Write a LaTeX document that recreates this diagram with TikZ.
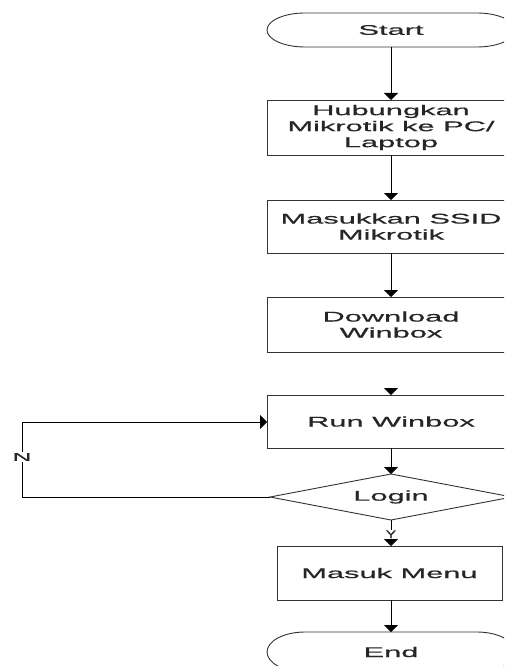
\documentclass[tikz,border=0pt]{standalone}
\usepackage{fontspec}
\usetikzlibrary{arrows.meta}
\newfontfamily\widesans[FakeStretch=2.2,FakeBold=0.6]{Liberation Sans}
\newfontfamily\labelsans[FakeStretch=1.4,FakeBold=0.8]{Liberation Sans}
\newfontfamily\nosans[FakeStretch=2.4,FakeBold=1]{Liberation Sans}
\begin{document}
\begin{tikzpicture}[x=1pt,y=1pt,
  line width=0.9pt,
  every node/.style={inner sep=0pt, outer sep=0pt},
  txt/.style={font=\widesans\fontsize{14}{16}\selectfont, align=center, text=black!85},
  procbox/.style={txt, draw=black!80, minimum width=248pt},
  termbox/.style={txt, minimum width=248pt},
  ctext/.style={txt, draw=none},
  yn/.style={font=\labelsans\fontsize{11}{12}\selectfont, fill=white, text=black!85, inner sep=1pt},
  arr/.style={draw=black, -{Triangle[width=14pt,length=7pt]}}
]
\useasboundingbox (0,0) rectangle (504,-666);
\clip (0,0) rectangle (504,-666);
\fill[white] (0,0) rectangle (504,-666);

% terminators (elliptic-ended outlines drawn round the text nodes)
\node[termbox, minimum height=34pt] (start) at (391,-30) {Start};
\node[termbox, minimum height=40pt] (endn) at (391,-652) {End};
\foreach \t/\r in {start/17,endn/20}{
  \draw[draw=black!80] ([xshift=38pt]\t.north west) -- ([xshift=-38pt]\t.north east)
    arc[start angle=90, end angle=-90, x radius=38pt, y radius=\r pt]
    -- ([xshift=38pt]\t.south west)
    arc[start angle=270, end angle=90, x radius=38pt, y radius=\r pt] -- cycle;
}

% process steps
\node[procbox, minimum height=55pt] (hub) at (391,-127.5) {Hubungkan\\Mikrotik ke PC/\\Laptop};
\node[procbox, minimum height=53pt] (ssid) at (391,-226.5) {Masukkan SSID\\Mikrotik};
\node[procbox, minimum height=55pt] (dl) at (391,-324.5) {Download\\Winbox};
\node[procbox, minimum height=53pt] (run) at (391,-421.5) {Run Winbox};
\node[procbox, minimum height=54pt, minimum width=225pt] (menu) at (389.5,-573) {Masuk Menu};

% decision
\node[ctext, minimum width=242pt, minimum height=46pt] (login) at (391,-497) {Login};
\draw[draw=black!80] (login.north) -- (login.east) -- (login.south) -- (login.west) -- cycle;

% flow
\draw[arr] (start.south) -- (hub.north);
\draw[arr] (hub.south) -- (ssid.north);
\draw[arr] (ssid.south) -- (dl.north);
\coordinate (runin) at (391,-388);
\draw[arr] (runin) -- (run.north);
\draw[arr] (run.south) -- (login.north);
\draw[arr] (login.south) -- (menu.north -| login.south) node[yn, pos=0.55] {Y};
\draw[arr] (menu.south -| endn.north) -- (endn.north);

% retry loop
\coordinate (nlow) at (22,-497);
\coordinate (nup) at (22,-422);
\draw[arr] (login.west) -- (nlow) -- (nup) -- (nup -| run.west);
\node[yn, font=\nosans\fontsize{11}{12}\selectfont] (nlab) at (22,-457) {N};
\end{tikzpicture}
\end{document}
